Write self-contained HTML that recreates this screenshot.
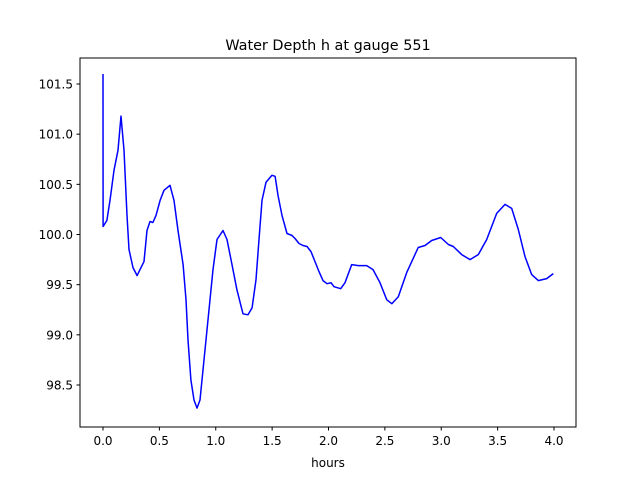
<!DOCTYPE html>
<html><head><meta charset="utf-8"><style>
body{margin:0;background:#fff;}
svg text{font-family:"DejaVu Sans","Liberation Sans",sans-serif;fill:#000;}
</style></head><body>
<svg id="chart" width="640" height="480">
<rect width="640" height="480" fill="#fff"/>
<text x="328" y="50" font-size="14.4" text-anchor="middle">Water Depth h at gauge 551</text>
<g id="plot"></g>
<rect x="80" y="58" width="496" height="369" fill="none" stroke="#000" stroke-width="1"/>
<text x="328" y="467" font-size="12" text-anchor="middle">hours</text>
</svg>
<script>
const hours=[0,0.001,0.035,0.062,0.098,0.133,0.160,0.186,0.213,0.231,0.266,0.302,0.337,0.364,0.390,0.417,0.443,0.470,0.506,0.541,0.594,0.630,0.665,0.710,0.736,0.754,0.780,0.807,0.834,0.860,0.896,0.931,0.976,1.011,1.064,1.100,1.144,1.188,1.242,1.286,1.322,1.357,1.384,1.410,1.446,1.499,1.526,1.552,1.588,1.632,1.676,1.703,1.738,1.774,1.809,1.845,1.880,1.916,1.951,1.987,2.022,2.049,2.108,2.146,2.206,2.264,2.339,2.395,2.457,2.516,2.561,2.619,2.694,2.796,2.856,2.915,2.995,3.063,3.107,3.181,3.255,3.329,3.403,3.492,3.565,3.625,3.683,3.743,3.802,3.861,3.935,3.994];
const depth=[101.60,100.08,100.14,100.34,100.64,100.84,101.18,100.84,100.19,99.85,99.67,99.59,99.67,99.73,100.04,100.13,100.12,100.19,100.34,100.44,100.49,100.34,100.04,99.70,99.35,98.95,98.55,98.35,98.27,98.35,98.75,99.15,99.65,99.95,100.04,99.95,99.70,99.45,99.21,99.20,99.27,99.55,99.95,100.34,100.52,100.59,100.58,100.39,100.19,100.01,99.99,99.96,99.91,99.89,99.88,99.83,99.73,99.63,99.54,99.51,99.52,99.48,99.46,99.52,99.70,99.69,99.69,99.65,99.52,99.35,99.31,99.38,99.62,99.87,99.89,99.94,99.97,99.90,99.88,99.80,99.75,99.80,99.95,100.21,100.30,100.26,100.05,99.78,99.60,99.54,99.56,99.61];
const xTicks=[0,0.5,1,1.5,2,2.5,3,3.5,4];
const xTickLabels=["0.0","0.5","1.0","1.5","2.0","2.5","3.0","3.5","4.0"];
const yTicks=[98.5,99,99.5,100,100.5,101,101.5];
const yTickLabels=["98.5","99.0","99.5","100.0","100.5","101.0","101.5"];
const sx=v=>103+v*112.75;
const sy=v=>84+(101.5-v)*100.33;
const NS="http://www.w3.org/2000/svg";
const g=document.getElementById('plot');
function mk(t,a){const e=document.createElementNS(NS,t);for(const k in a)e.setAttribute(k,a[k]);return e;}
xTicks.forEach((v,i)=>{
  const l=mk('line',{x1:sx(v),x2:sx(v),y1:427,y2:430.5,stroke:'#000'});
  
  
  g.appendChild(l);
  const t=mk('text',{x:sx(v),y:445,'font-size':12,'text-anchor':'middle'});
  
  
  t.textContent=xTickLabels[i];g.appendChild(t);
});
yTicks.forEach((v,i)=>{
  const l=mk('line',{x1:76.5,x2:80,y1:sy(v),y2:sy(v),stroke:'#000'});
  
  
  g.appendChild(l);
  const t=mk('text',{x:73,y:sy(v)+4.5,'font-size':12,'text-anchor':'end'});
  
  
  t.textContent=yTickLabels[i];g.appendChild(t);
});
const pts=hours.map((h,i)=>sx(h).toFixed(1)+','+sy(depth[i]).toFixed(1)).join(' ');
const pl=mk('polyline',{points:pts,fill:'none',stroke:'#0000ff','stroke-width':1.5,'stroke-linejoin':'round'});


g.appendChild(pl);
</script>
</body></html>
